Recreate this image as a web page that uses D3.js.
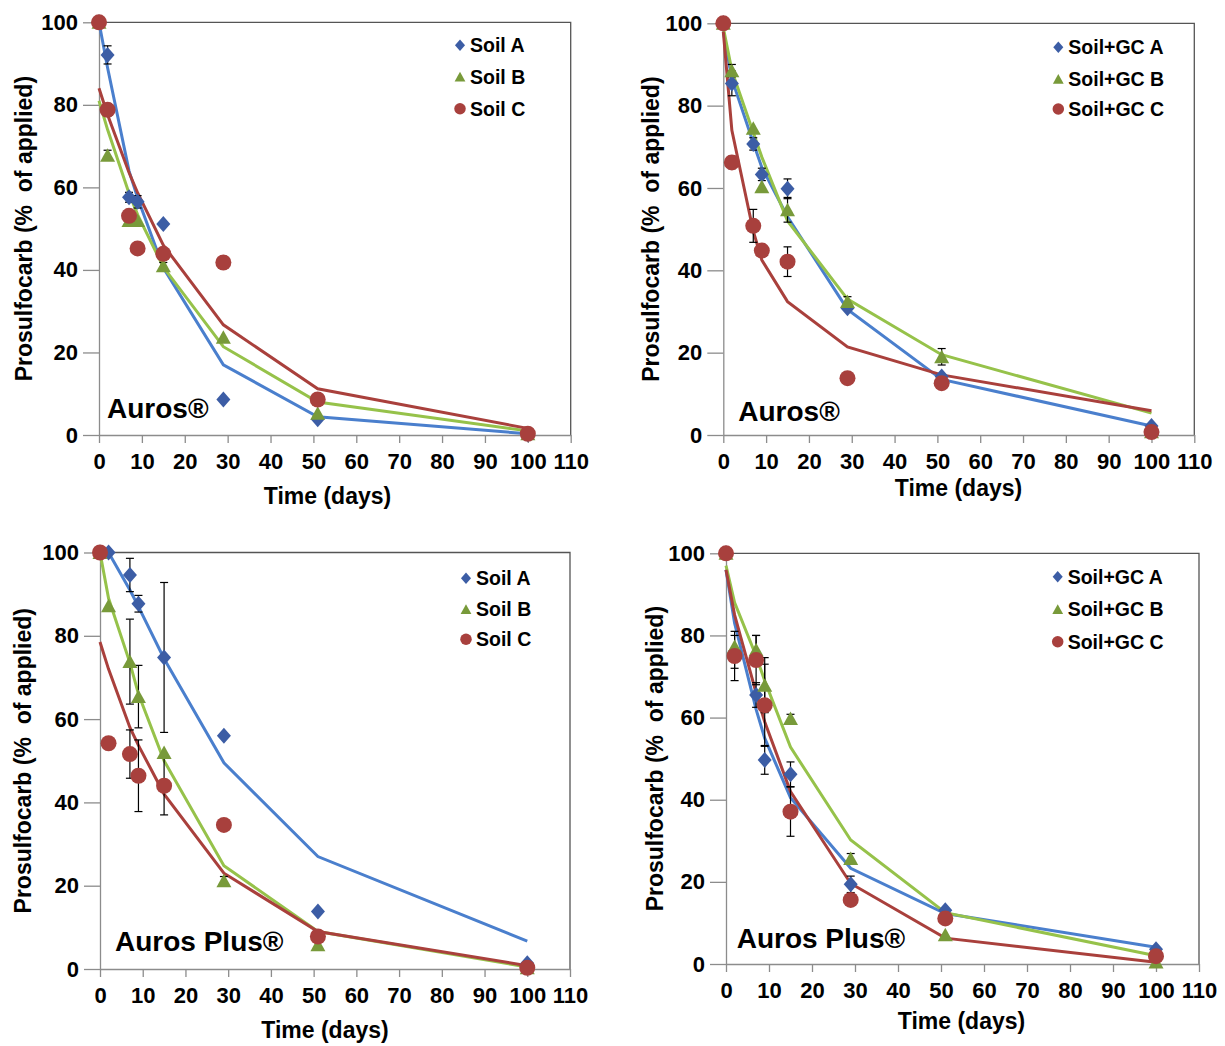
<!DOCTYPE html>
<html>
<head>
<meta charset="utf-8">
<script src="https://cdn.jsdelivr.net/npm/d3@7"></script>
<style>
  body { margin: 0; background: #fff; }
  svg text { font-family: "Liberation Sans", Arial, sans-serif; font-weight: bold; fill: #000; }
</style>
</head>
<body>
<div id="container"></div>
<script>
/* DATA */
const days = [0, 2, 7, 9, 15, 29, 51, 100];
const xTicks = [0, 10, 20, 30, 40, 50, 60, 70, 80, 90, 100, 110];
const yTicks = [0, 20, 40, 60, 80, 100];
const soilNames = ["Soil A", "Soil B", "Soil C"];
const gcNames = ["Soil+GC A", "Soil+GC B", "Soil+GC C"];
const xTitle = "Time (days)";
const yTitle = "Prosulfocarb (%  of applied)";

// Auros, soil (top left) - measured, error, fitted
const aurosSoilObs = [
  [100, 92.1, 57.6, 56.5, 51.1, 8.6, 3.8, 0.2],
  [100, 67.8, 52.0, 52.0, 41.0, 23.7, 5.3, 0.3],
  [100, 78.8, 53.1, 45.2, 43.9, 41.8, 8.6, 0.3]
];
const aurosSoilErr = [
  [0, 2.2, 1.2, 1.5, 0, 0, 0, 0],
  [0, 1.2, 0, 0, 0.8, 0, 0, 0],
  [0, 1.5, 0, 0, 0, 0, 0, 0]
];
const aurosSoilFit = [
  [100, 89, 64, 57.5, 40.5, 17, 4.4, 0.3],
  [81, 74, 58.6, 53.4, 40.7, 21.4, 8, 1],
  [84, 77.6, 63.6, 58.7, 46, 26.7, 11.2, 1.6]
];

// Auros, soil + GC (top right)
const aurosGcObs = [
  [100, 85.4, 70.7, 63.3, 59.8, 30.8, 14.2, 2.2],
  [100, 88.5, 74.5, 60.3, 54.7, 32.4, 19.0, 0.8],
  [100, 66.2, 50.8, 44.8, 42.1, 13.8, 12.6, 0.7]
];
const aurosGcErr = [
  [0, 3, 1.5, 1.5, 2.4, 0, 0, 0],
  [0, 1.5, 0, 0, 3, 1.2, 2, 0],
  [0, 1.5, 4, 0, 3.6, 0, 0, 0]
];
const aurosGcFit = [
  [98, 86.5, 71, 65, 53, 30.5, 13.5, 2.2],
  [99, 88.5, 73.5, 67.5, 52, 33, 19.5, 5.3],
  [98, 74, 49.5, 42.5, 32.4, 21.4, 14.6, 5.9]
];

// Auros Plus, soil (bottom left)
const plusSoilObs = [
  [100, 100, 94.6, 87.7, 74.8, 56.0, 13.8, 1.4],
  [100, 87.2, 73.8, 65.4, 52.0, 21.2, 5.8, 0.3],
  [100, 54.2, 51.6, 46.4, 44.0, 34.6, 7.8, 0.3]
];
const plusSoilErr = [
  [0, 0, 4, 2, 18, 0, 0, 0],
  [0, 0, 10.2, 7.5, 0, 1, 0, 0],
  [0, 0, 5.8, 8.6, 7, 0, 0, 0]
];
const plusSoilFit = [
  [null, 100, 91, 87, 74.5, 49.5, 27, 6.7],
  [100, 89, 73.5, 66, 50, 24.8, 9, 0.5],
  [78.5, 72, 58, 53.7, 42, 23, 9, 0.8]
];

// Auros Plus, soil + GC (bottom right)
const plusGcObs = [
  [100, 76, 65.5, 49.7, 46.2, 19.4, 13.1, 3.6],
  [100, 77.3, 76.5, 67.9, 59.8, 25.7, 7.1, 0.5],
  [100, 75, 74, 63, 37.1, 15.6, 11.1, 1.9]
];
const plusGcErr = [
  [0, 4, 3, 3.5, 3, 2, 0, 0],
  [0, 0, 3.5, 6.7, 1, 1.2, 0, 0],
  [0, 6, 6, 10, 6, 0, 0, 0]
];
const plusGcFit = [
  [96, 83, 62, 55, 40.5, 23.3, 12.3, 4.1],
  [97, 88, 75, 69, 52.8, 30.2, 12.5, 2],
  [96, 85, 66, 59, 42, 19.6, 6.3, 0.4]
];

/* STYLE */
const lineColors = ["#4A7FCD", "#96C24A", "#A9403C"];
const markerColors = ["#3C5DA5", "#789A3A", "#A8403D"];
const axisColor = "#8c8c8c";

// marker shapes (big for plot, small for legend)
const shape = (i, s) => {
  if (i === 0) return `M0,${-8*s}L${7*s},0L0,${8*s}L${-7*s},0Z`;
  if (i === 1) return `M0,${-7*s}L${7.5*s},${6.5*s}L${-7.5*s},${6.5*s}Z`;
  return `M${-8*s},0A${8*s},${8*s} 0 1,0 ${8*s},0A${8*s},${8*s} 0 1,0 ${-8*s},0Z`;
};

/* PANELS (layout) */
const panels = [
  {left: 99, top: 22.3, right: 570.7, bottom: 435, names: soilNames, obs: aurosSoilObs, err: aurosSoilErr, fit: aurosSoilFit,
   label: "Auros®", labelDx: 8, labelDy: 17, titleX: 327.5, titleDy: 69, yTitleX: 32, legendX: 460, legendDy: [23, 54.5, 86.5]},
  {left: 723.3, top: 23.3, right: 1194.3, bottom: 435, names: gcNames, obs: aurosGcObs, err: aurosGcErr, fit: aurosGcFit,
   label: "Auros®", labelDx: 15, labelDy: 14, titleX: 958.5, titleDy: 61, yTitleX: 659, legendX: 1058.3, legendDy: [24, 55.7, 85.7]},
  {left: 100, top: 552.5, right: 570, bottom: 969, names: soilNames, obs: plusSoilObs, err: plusSoilErr, fit: plusSoilFit,
   label: "Auros Plus®", labelDx: 15, labelDy: 18, titleX: 325, titleDy: 69, yTitleX: 31, legendX: 466, legendDy: [25.8, 56.8, 86.8]},
  {left: 726, top: 553.3, right: 1199, bottom: 964, names: gcNames, obs: plusGcObs, err: plusGcErr, fit: plusGcFit,
   label: "Auros Plus®", labelDx: 10.7, labelDy: 16, titleX: 961.5, titleDy: 65, yTitleX: 663, legendX: 1057.7, legendDy: [23.4, 56, 88.4]}
];

const svg = d3.select("#container")
  .append("svg")
  .attr("width", 1225)
  .attr("height", 1046);

panels.forEach(p => {
  const x = d3.scaleLinear().domain([0, 110]).range([p.left, p.right]);
  const y = d3.scaleLinear().domain([0, 100]).range([p.bottom, p.top]);
  const g = svg.append("g");

  // top + right frame
  g.append("path")
    .attr("d", `M${p.left},${p.top}H${p.right}V${p.bottom}`)
    .attr("fill", "none")
    .attr("stroke", "#555")
    .attr("stroke-width", 1.3);

  // x axis
  const xg = g.append("g")
    .attr("transform", `translate(0,${p.bottom})`)
    .call(d3.axisBottom(x).tickValues(xTicks).tickSize(8).tickSizeOuter(0).tickPadding(10));
  // y axis
  const yg = g.append("g")
    .attr("transform", `translate(${p.left},0)`)
    .call(d3.axisLeft(y).tickValues(yTicks).tickSize(16).tickSizeOuter(0).tickPadding(5));
  [xg, yg].forEach(a => {
    a.selectAll("path, line").attr("stroke", axisColor).attr("stroke-width", 1.3);
    a.selectAll("text").style("font-size", "22px").attr("fill", "#000");
  });

  // axis titles
  g.append("text")
    .attr("x", p.titleX)
    .attr("y", p.bottom + p.titleDy)
    .attr("text-anchor", "middle")
    .style("font-size", "23px")
    .text(xTitle);
  g.append("text")
    .attr("transform", "rotate(-90)")
    .attr("x", -(p.top + p.bottom) / 2)
    .attr("y", p.yTitleX)
    .attr("text-anchor", "middle")
    .style("font-size", "23px")
    .style("white-space", "pre")
    .text(yTitle);

  // fitted lines
  const line = d3.line()
    .defined(d => d.v != null)
    .x(d => x(d.d))
    .y(d => y(d.v));
  p.fit.forEach((vals, i) => {
    g.append("path")
      .datum(days.map((d, j) => ({d: d, v: vals[j]})))
      .attr("d", line)
      .attr("fill", "none")
      .attr("stroke", lineColors[i])
      .attr("stroke-width", 3);
  });

  // error bars
  p.obs.forEach((vals, i) => {
    const pts = days.map((d, j) => ({d: d, v: vals[j], e: p.err[i][j]})).filter(o => o.e > 0);
    const eb = g.append("g").attr("stroke", "#000").attr("stroke-width", 1.2);
    eb.selectAll("line.bar").data(pts).join("line")
      .attr("x1", o => x(o.d)).attr("x2", o => x(o.d))
      .attr("y1", o => y(o.v + o.e)).attr("y2", o => y(o.v - o.e));
    eb.selectAll("line.top").data(pts).join("line").attr("class", "top")
      .attr("x1", o => x(o.d) - 4).attr("x2", o => x(o.d) + 4)
      .attr("y1", o => y(o.v + o.e)).attr("y2", o => y(o.v + o.e));
    eb.selectAll("line.bot").data(pts).join("line").attr("class", "bot")
      .attr("x1", o => x(o.d) - 4).attr("x2", o => x(o.d) + 4)
      .attr("y1", o => y(o.v - o.e)).attr("y2", o => y(o.v - o.e));
  });

  // markers
  p.obs.forEach((vals, i) => {
    g.selectAll(null)
      .data(days.map((d, j) => ({d: d, v: vals[j]})))
      .join("path")
      .attr("d", shape(i, 1))
      .attr("transform", o => `translate(${x(o.d)},${y(o.v)})`)
      .attr("fill", markerColors[i]);
  });

  // legend
  p.names.forEach((name, i) => {
    const ly = p.top + p.legendDy[i];
    g.append("path")
      .attr("d", shape(i, 0.72))
      .attr("transform", `translate(${p.legendX},${ly})`)
      .attr("fill", markerColors[i]);
    g.append("text")
      .attr("x", p.legendX + 10)
      .attr("y", ly)
      .attr("dy", "0.35em")
      .style("font-size", "19.5px")
      .text(name);
  });

  // panel label
  g.append("text")
    .attr("x", p.left + p.labelDx)
    .attr("y", p.bottom - p.labelDy)
    .style("font-size", "28px")
    .text(p.label);
});
</script>
</body>
</html>
